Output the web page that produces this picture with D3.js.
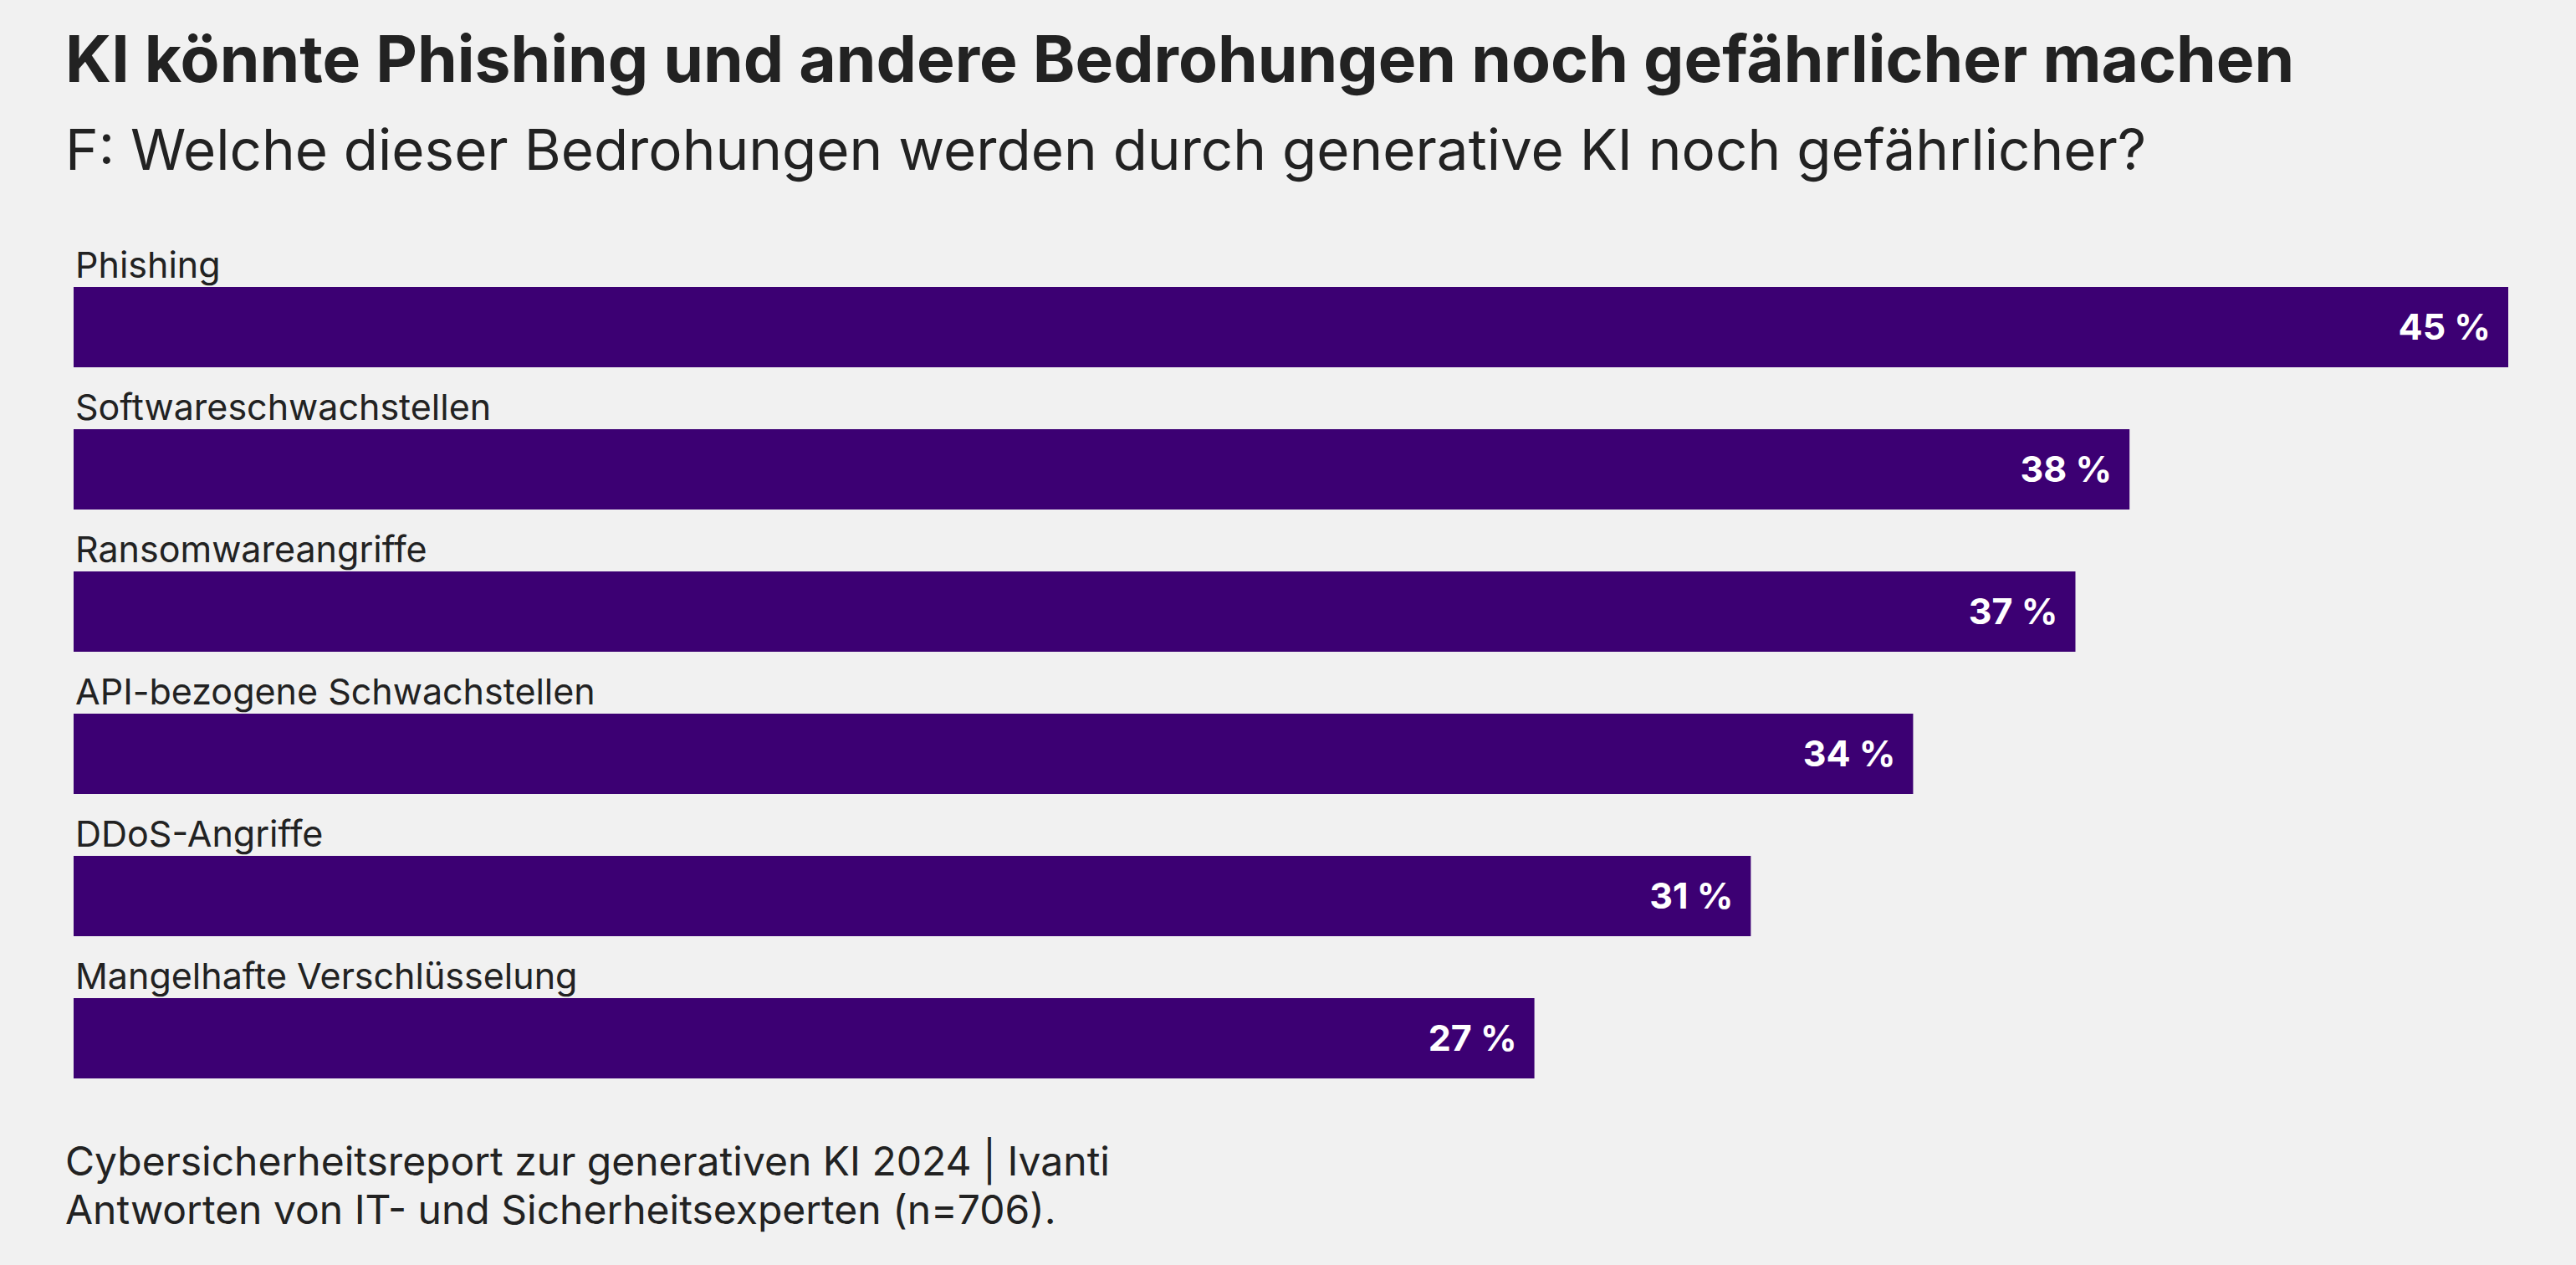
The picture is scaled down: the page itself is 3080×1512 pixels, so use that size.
<!DOCTYPE html>
<html><head><meta charset="utf-8">
<script src="https://cdn.jsdelivr.net/npm/d3@7"></script>
<style>
html,body{margin:0;padding:0;background:#f1f1f1;}
svg{display:block;}
text{font-family:Inter,"Noto Sans",sans-serif;}
</style></head>
<body>
<script>
const categories = ["Phishing","Softwareschwachstellen","Ransomwareangriffe","API-bezogene Schwachstellen","DDoS-Angriffe","Mangelhafte Verschlüsselung"];
const values = [45,38,37,34,31,27];
const title = "KI könnte Phishing und andere Bedrohungen noch gefährlicher machen";
const subtitle = "F: Welche dieser Bedrohungen werden durch generative KI noch gefährlicher?";
const footer = ["Cybersicherheitsreport zur generativen KI 2024 | Ivanti","Antworten von IT- und Sicherheitsexperten (n=706)."];

const W=3080,H=1512;
const svg=d3.select("body").append("svg").attr("width",W).attr("height",H);
svg.append("rect").attr("width",W).attr("height",H).attr("fill","#f1f1f1");

const x=d3.scaleLinear().domain([0,45]).range([88,2999]);
const step=170, barH=96, top0=343;
const yb=d3.scaleBand().domain(categories)
  .range([top0, top0+step*categories.length-(step-barH)])
  .paddingInner(1-barH/step).paddingOuter(0).align(0);

svg.append("text").attr("x",78).attr("y",98).attr("font-size",76.7).attr("font-weight",700).attr("fill","#222").text(title);
svg.append("text").attr("x",78).attr("y",203).attr("font-size",67.3).attr("font-weight",400).attr("fill","#222").text(subtitle);

const g=svg.append("g");
const rows=g.selectAll("g.row").data(categories.map((c,i)=>({c,v:values[i]}))).join("g").attr("class","row");
rows.append("rect").attr("x",x(0)).attr("y",d=>yb(d.c)).attr("width",d=>x(d.v)-x(0)).attr("height",yb.bandwidth()).attr("fill","#3c0073");
rows.append("text").attr("x",x(0)+2).attr("y",d=>yb(d.c)-11).attr("font-size",43).attr("fill","#222").text(d=>d.c);
rows.append("text").attr("x",d=>x(d.v)-21).attr("y",d=>yb(d.c)+yb.bandwidth()/2+15).attr("text-anchor","end").attr("font-size",43).attr("font-weight",700).attr("fill","#fff").text(d=>d.v+" %");

svg.append("g").selectAll("text").data(footer).join("text").attr("x",78).attr("y",(d,i)=>1405+i*58).attr("font-size",48).attr("fill","#222").text(d=>d);
</script>
</body></html>
